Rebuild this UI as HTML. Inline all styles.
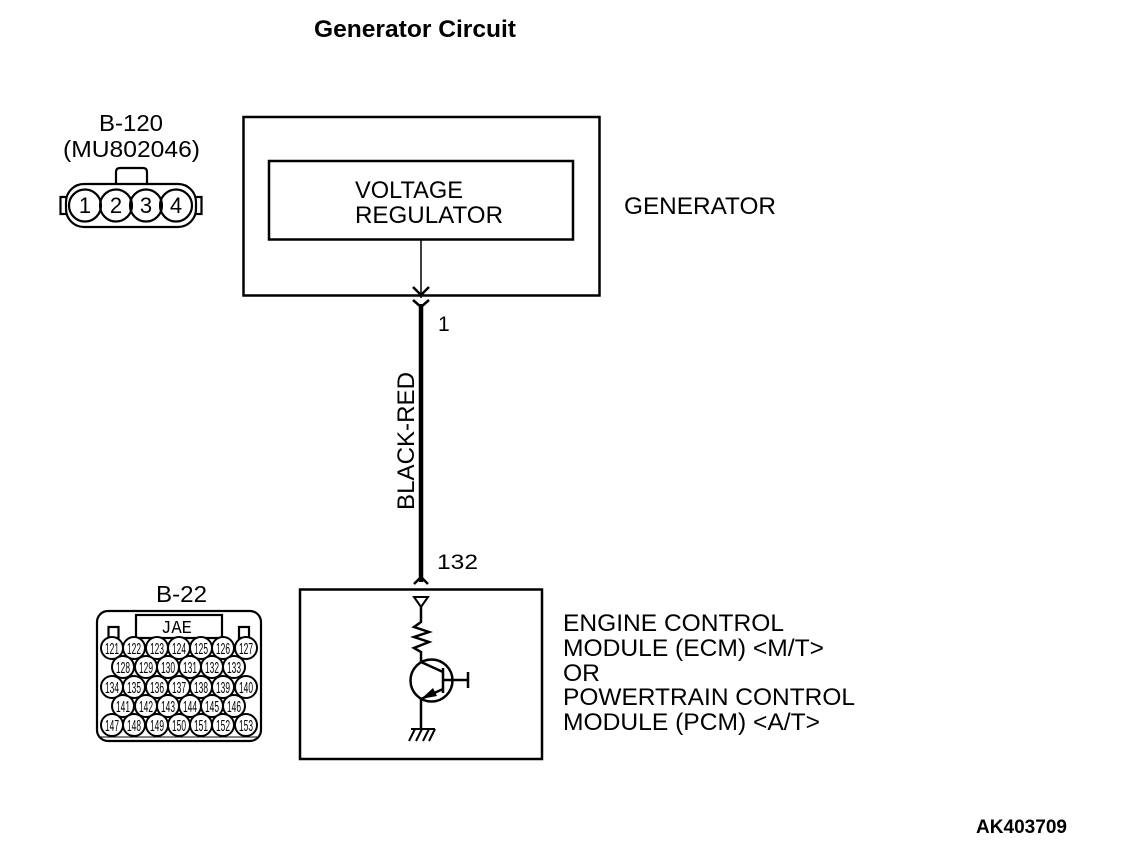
<!DOCTYPE html>
<html>
<head>
<meta charset="utf-8">
<style>
html,body{margin:0;padding:0;background:#fff}
svg{display:block}
text{font-family:"Liberation Sans",sans-serif;fill:#000}
.l{font-size:24px}
.p{font-size:15.500px;text-anchor:middle}
.n{font-size:22px;text-anchor:middle}
</style>
</head>
<body>
<svg width="1136" height="860" viewBox="0 0 1136 860" xmlns="http://www.w3.org/2000/svg">
<text x="314" y="37" font-size="24" font-weight="bold" textLength="202" lengthAdjust="spacingAndGlyphs">Generator Circuit</text>

<g fill="none" stroke="#000">
<rect x="243.500" y="117" width="356" height="178.500" stroke-width="2.500"/>
<rect x="269" y="161" width="304" height="78.500" stroke-width="2.500"/>
<path d="M421 240V298" stroke-width="1.500"/>
<path d="M413 287L421 295L429 287" stroke-width="2.500"/>
<path d="M413 300L421 307L429 300" stroke-width="2.500"/>
<path d="M421 304V582" stroke-width="4.500"/>
<path d="M414 584L421 577L428 584" stroke-width="2.500"/>
<rect x="300" y="589.500" width="242" height="169.500" stroke-width="2.500"/>
<path d="M414 597H428L421 607Z" stroke-width="2"/>
<path d="M421 607V622L414 627L429 632L414 637L429 642L414 648L421 652V662" stroke-width="2.500"/>
<circle cx="431.500" cy="680.500" r="21" stroke-width="2.500"/>
<path d="M421 662L443 672M443 668V693M443 680H469M468 672V688M443 689L421 699V729" stroke-width="2.500"/>
<path d="M411 729H435M415 729L409 741M422 729L416 741M429 729L423 741M435 729L429 741" stroke-width="2"/>
</g>
<path d="M421 699L433 688L437 696Z" fill="#000"/>

<text class="l" x="355" y="198" textLength="108" lengthAdjust="spacingAndGlyphs">VOLTAGE</text>
<text class="l" x="355" y="223" textLength="148" lengthAdjust="spacingAndGlyphs">REGULATOR</text>
<text class="l" x="624" y="214" textLength="152" lengthAdjust="spacingAndGlyphs">GENERATOR</text>
<text x="438" y="331" font-size="21">1</text>
<text x="437" y="569" font-size="21" textLength="41" lengthAdjust="spacingAndGlyphs">132</text>
<text class="l" transform="translate(414 510) rotate(-90)" textLength="138" lengthAdjust="spacingAndGlyphs">BLACK-RED</text>
<text class="l" x="563" y="631" textLength="221" lengthAdjust="spacingAndGlyphs">ENGINE CONTROL</text>
<text class="l" x="563" y="656" textLength="261" lengthAdjust="spacingAndGlyphs">MODULE (ECM) &lt;M/T&gt;</text>
<text class="l" x="563" y="681" textLength="37" lengthAdjust="spacingAndGlyphs">OR</text>
<text class="l" x="563" y="705" textLength="292" lengthAdjust="spacingAndGlyphs">POWERTRAIN CONTROL</text>
<text class="l" x="563" y="730" textLength="257" lengthAdjust="spacingAndGlyphs">MODULE (PCM) &lt;A/T&gt;</text>

<text x="99" y="131" font-size="23" textLength="64" lengthAdjust="spacingAndGlyphs">B-120</text>
<text x="63" y="157" font-size="23" textLength="137" lengthAdjust="spacingAndGlyphs">(MU802046)</text>
<g fill="none" stroke="#000" stroke-width="2.200">
<path d="M116 184V172Q116 168 120 168H143Q147 168 147 172V184"/>
<rect x="60.500" y="197" width="6" height="17"/>
<rect x="195.500" y="197" width="6" height="17"/>
<rect x="66" y="184" width="130" height="43" rx="18" fill="#fff"/>
<circle cx="85" cy="205.500" r="16"/>
<circle cx="116" cy="205.500" r="16"/>
<circle cx="146" cy="205.500" r="16"/>
<circle cx="176" cy="205.500" r="16"/>
</g>
<text class="n" x="85" y="213">1</text>
<text class="n" x="116" y="213">2</text>
<text class="n" x="146" y="213">3</text>
<text class="n" x="176" y="213">4</text>

<text x="156" y="602" font-size="23" textLength="51" lengthAdjust="spacingAndGlyphs">B-22</text>
<g fill="none" stroke="#000" stroke-width="2.200">
<rect x="97" y="611" width="164" height="130" rx="11"/>
<rect x="136" y="615" width="86" height="23"/>
<rect x="108.500" y="627" width="10" height="11"/>
<rect x="239" y="627" width="10" height="11"/>
<path d="M101 737H257" stroke-width="1"/>
</g>
<text x="161" y="633" font-size="18" textLength="31" lengthAdjust="spacingAndGlyphs" style="font-family:'Liberation Mono',monospace">JAE</text>
<g fill="#fff" stroke="#000" stroke-width="2">
<circle cx="112" cy="648" r="11"/><circle cx="134" cy="648" r="11"/><circle cx="157" cy="648" r="11"/><circle cx="179" cy="648" r="11"/><circle cx="201" cy="648" r="11"/><circle cx="223" cy="648" r="11"/><circle cx="246" cy="648" r="11"/>
<circle cx="123" cy="667" r="11"/><circle cx="146" cy="667" r="11"/><circle cx="168" cy="667" r="11"/><circle cx="190" cy="667" r="11"/><circle cx="212" cy="667" r="11"/><circle cx="234" cy="667" r="11"/>
<circle cx="112" cy="687" r="11"/><circle cx="134" cy="687" r="11"/><circle cx="157" cy="687" r="11"/><circle cx="179" cy="687" r="11"/><circle cx="201" cy="687" r="11"/><circle cx="223" cy="687" r="11"/><circle cx="246" cy="687" r="11"/>
<circle cx="123" cy="706" r="11"/><circle cx="146" cy="706" r="11"/><circle cx="168" cy="706" r="11"/><circle cx="190" cy="706" r="11"/><circle cx="212" cy="706" r="11"/><circle cx="234" cy="706" r="11"/>
<circle cx="112" cy="725" r="11"/><circle cx="134" cy="725" r="11"/><circle cx="157" cy="725" r="11"/><circle cx="179" cy="725" r="11"/><circle cx="201" cy="725" r="11"/><circle cx="223" cy="725" r="11"/><circle cx="246" cy="725" r="11"/>
</g>
<g class="pins" lengthAdjust="spacingAndGlyphs">
<text class="p" x="112" y="654" textLength="14" lengthAdjust="spacingAndGlyphs">121</text><text class="p" x="134" y="654" textLength="14" lengthAdjust="spacingAndGlyphs">122</text><text class="p" x="157" y="654" textLength="14" lengthAdjust="spacingAndGlyphs">123</text><text class="p" x="179" y="654" textLength="14" lengthAdjust="spacingAndGlyphs">124</text><text class="p" x="201" y="654" textLength="14" lengthAdjust="spacingAndGlyphs">125</text><text class="p" x="223" y="654" textLength="14" lengthAdjust="spacingAndGlyphs">126</text><text class="p" x="246" y="654" textLength="14" lengthAdjust="spacingAndGlyphs">127</text>
<text class="p" x="123" y="673" textLength="14" lengthAdjust="spacingAndGlyphs">128</text><text class="p" x="146" y="673" textLength="14" lengthAdjust="spacingAndGlyphs">129</text><text class="p" x="168" y="673" textLength="14" lengthAdjust="spacingAndGlyphs">130</text><text class="p" x="190" y="673" textLength="14" lengthAdjust="spacingAndGlyphs">131</text><text class="p" x="212" y="673" textLength="14" lengthAdjust="spacingAndGlyphs">132</text><text class="p" x="234" y="673" textLength="14" lengthAdjust="spacingAndGlyphs">133</text>
<text class="p" x="112" y="693" textLength="14" lengthAdjust="spacingAndGlyphs">134</text><text class="p" x="134" y="693" textLength="14" lengthAdjust="spacingAndGlyphs">135</text><text class="p" x="157" y="693" textLength="14" lengthAdjust="spacingAndGlyphs">136</text><text class="p" x="179" y="693" textLength="14" lengthAdjust="spacingAndGlyphs">137</text><text class="p" x="201" y="693" textLength="14" lengthAdjust="spacingAndGlyphs">138</text><text class="p" x="223" y="693" textLength="14" lengthAdjust="spacingAndGlyphs">139</text><text class="p" x="246" y="693" textLength="14" lengthAdjust="spacingAndGlyphs">140</text>
<text class="p" x="123" y="712" textLength="14" lengthAdjust="spacingAndGlyphs">141</text><text class="p" x="146" y="712" textLength="14" lengthAdjust="spacingAndGlyphs">142</text><text class="p" x="168" y="712" textLength="14" lengthAdjust="spacingAndGlyphs">143</text><text class="p" x="190" y="712" textLength="14" lengthAdjust="spacingAndGlyphs">144</text><text class="p" x="212" y="712" textLength="14" lengthAdjust="spacingAndGlyphs">145</text><text class="p" x="234" y="712" textLength="14" lengthAdjust="spacingAndGlyphs">146</text>
<text class="p" x="112" y="731" textLength="14" lengthAdjust="spacingAndGlyphs">147</text><text class="p" x="134" y="731" textLength="14" lengthAdjust="spacingAndGlyphs">148</text><text class="p" x="157" y="731" textLength="14" lengthAdjust="spacingAndGlyphs">149</text><text class="p" x="179" y="731" textLength="14" lengthAdjust="spacingAndGlyphs">150</text><text class="p" x="201" y="731" textLength="14" lengthAdjust="spacingAndGlyphs">151</text><text class="p" x="223" y="731" textLength="14" lengthAdjust="spacingAndGlyphs">152</text><text class="p" x="246" y="731" textLength="14" lengthAdjust="spacingAndGlyphs">153</text>
</g>

<text x="976" y="833" font-size="19" font-weight="bold" textLength="91" lengthAdjust="spacingAndGlyphs">AK403709</text>
</svg>
</body>
</html>
